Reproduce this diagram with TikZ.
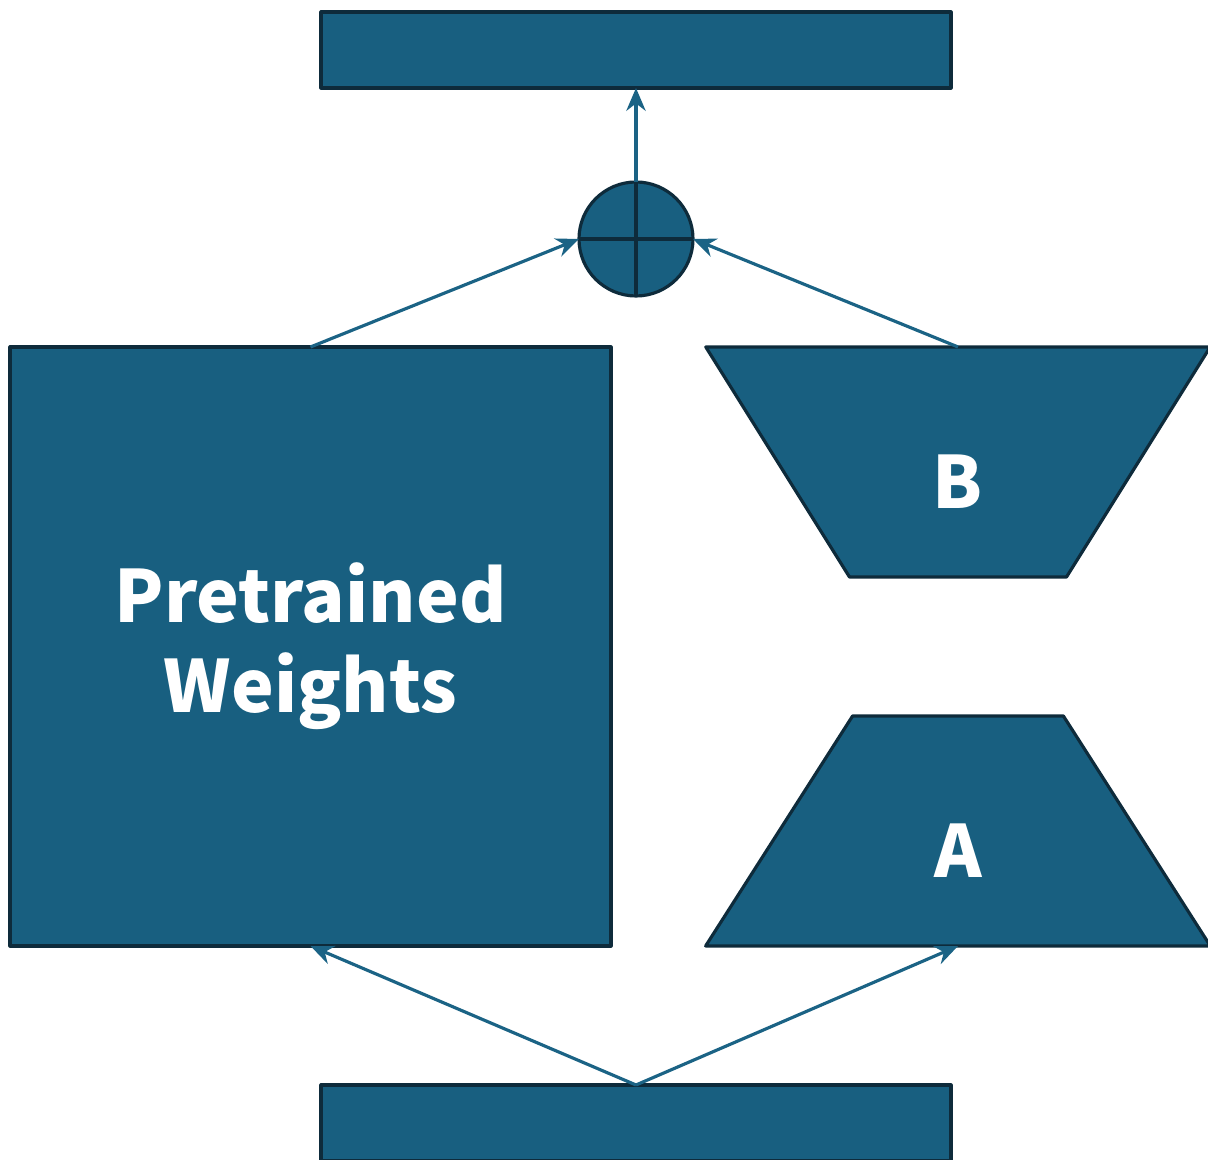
\documentclass[tikz,border=0pt]{standalone}
\usepackage{fontspec}
\newfontfamily\labelfont{Noto Sans CJK JP}
\usetikzlibrary{shapes.geometric,arrows.meta}
\definecolor{blockfill}{HTML}{185F80}
\definecolor{blockline}{HTML}{0E2B3B}
\definecolor{arrowcol}{HTML}{1B6385}
% letter sits a little below the middle, shape size unchanged
\newcommand{\lowletter}[1]{\raisebox{-0.2cm}[\height][\depth]{#1}}
\tikzset{
	block/.style={draw=blockline, fill=blockfill, line width=0.9pt, inner sep=0pt, outer sep=0pt, text=white, font=\labelfont\bfseries\fontsize{20.5}{25.6}\selectfont, align=center},
	bar/.style={block, rectangle, minimum width=6.30cm, minimum height=0.76cm},
	adapter/.style={block, trapezium, trapezium stretches=true, trapezium angle=58.3, minimum width=5.06cm, minimum height=2.30cm},
	link/.style={->, draw=arrowcol, line width=0.9pt}
}
\begin{document}
\begin{tikzpicture}[line join=round, >={Stealth[length=6.5pt,width=5.5pt]}]
				\useasboundingbox (0,0) rectangle (12.08,11.60);
				\clip (0,0) rectangle (12.08,11.60);
				\node[bar] (out) at (6.36,11.10) {};
				\node[bar] (in) at (6.36,0.37) {};
				\node[block, minimum width=6.01cm, minimum height=5.99cm] (w) at (3.105,5.135) {Pretrained\\Weights};
				\node[adapter, shape border rotate=180] (b) at (9.58,6.98) {\lowletter{B}};
				\node[adapter] (a) at (9.58,3.29) {\lowletter{A}};
				\node[block, circle, minimum size=1.14cm] (sum) at (6.36,9.21) {};
				\draw[blockline, line width=0.9pt] (sum.north) -- (sum.south) (sum.west) -- (sum.east);
				\draw[link] (sum.north) -- (out.south);
				\draw[link] (w.north) -- (sum.west);
				\draw[link] (b.north) -- (sum.east);
				\draw[link] (in.north) -- (w.south);
				\draw[link] (in.north) -- (a.south);
			\end{tikzpicture}
\end{document}
